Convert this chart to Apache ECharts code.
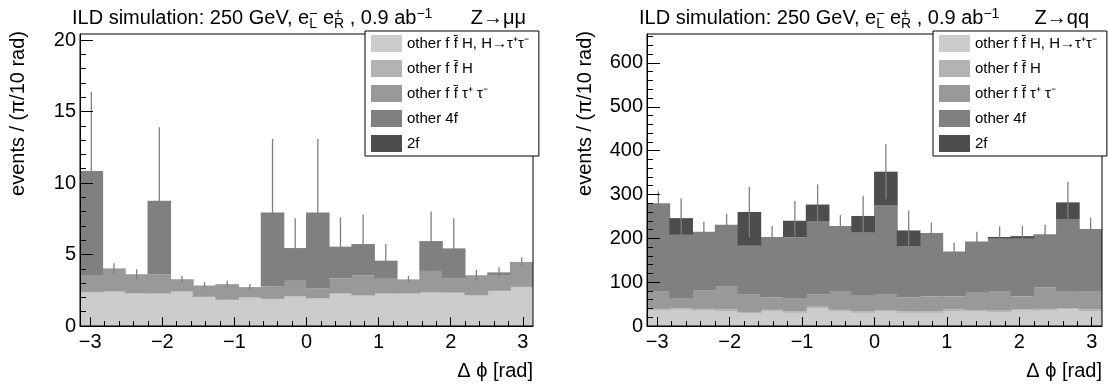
<!DOCTYPE html>
<html><head><meta charset="utf-8">
<script src="https://cdn.jsdelivr.net/npm/echarts@6/dist/echarts.min.js"></script>
<style>html,body{margin:0;padding:0;background:#fff}#c{width:1108px;height:385px}</style>
</head><body><div id="c"></div>
<script>
// ---- data ----
const binCenters = ['-2.98','-2.67','-2.36','-2.04','-1.73','-1.41','-1.10','-0.79','-0.47','-0.16',
                    '0.16','0.47','0.79','1.10','1.41','1.73','2.04','2.36','2.67','2.98'];
const xTickLabels = [-3, -2, -1, 0, 1, 2, 3];
const yTicksMuMu = [0, 5, 10, 15, 20];
const yTicksQQ = [0, 100, 200, 300, 400, 500, 600];
const seriesNames = ['other f f\u0304 H, H\u2192\u03c4\u207a\u03c4\u207b', 'other f f\u0304 H', 'other f f\u0304 \u03c4\u207a \u03c4\u207b', 'other 4f', '2f'];
const seriesColors = ['#cccccc', '#b3b3b3', '#999999', '#808080', '#4d4d4d'];

// Z -> mu mu
const mumu_Htautau = [2.33, 2.38, 2.25, 2.22, 2.38, 1.99, 1.79, 1.95, 1.84, 2.04, 1.90, 2.24, 2.08, 2.22, 2.23, 2.32, 2.28, 2.11, 2.41, 2.68];
const mumu_ffH     = [0.05, 0.04, 0.05, 0.06, 0.04, 0.05, 0.04, 0.05, 0.06, 0.05, 0.04, 0.05, 0.06, 0.05, 0.04, 0.05, 0.05, 0.04, 0.05, 0.06];
const mumu_fftt    = [1.19, 1.61, 1.32, 1.34, 0.85, 0.79, 1.10, 0.72, 0.88, 1.07, 0.71, 1.04, 1.41, 1.03, 0.99, 1.48, 1.02, 1.40, 1.11, 1.74];
const mumu_4f      = [7.27, 0, 0, 5.14, 0, 0, 0, 0, 5.15, 2.29, 5.28, 2.22, 2.18, 1.27, 0, 2.09, 2.08, 0, 0.18, 0];
const mumu_2f      = [0, 0, 0, 0, 0, 0, 0, 0, 0, 0, 0, 0, 0, 0, 0, 0, 0, 0, 0, 0];
const mumu_err     = [5.55, 0.35, 0.35, 5.14, 0.23, 0.23, 0.23, 0.21, 5.15, 2.08, 5.15, 2.05, 2.07, 1.16, 0.24, 2.06, 2.10, 0.38, 0.35, 0.32];

// Z -> q q
const qq_Htautau = [35, 37, 35, 34, 29, 33, 30, 40, 34, 30, 33, 30, 30, 34, 33, 31, 35, 35, 38, 34];
const qq_ffH     = [4, 3, 4, 4, 3, 4, 3, 4, 3, 4, 3, 4, 3, 4, 3, 4, 3, 4, 3, 4];
const qq_fftt    = [39, 22, 43, 53, 39, 28, 29, 28, 43, 35, 37, 31, 34, 29, 40, 43, 29, 49, 39, 40];
const qq_4f      = [202, 146, 133, 140, 112, 138, 140, 166, 148, 144, 203, 116, 145, 103, 117, 121, 132, 121, 164, 143];
const qq_2f      = [0, 38, 0, 0, 77, 0, 38, 39, 0, 38, 76, 37, 0, 0, 0, 4, 6, 0, 38, 0];
const qq_err     = [27, 45, 22, 25, 57, 25, 45, 46, 25, 46, 63, 45, 24, 20, 22, 24, 23, 22, 47, 26];

// ---- layout ----
const FONT = '"Liberation Sans", Arial, Helvetica, sans-serif';
const panels = [
  { left: 80, top: 34, width: 453, height: 292, ymax: 20.42, yTicks: yTicksMuMu, yMinorStep: 1,
    layers: [mumu_Htautau, mumu_ffH, mumu_fftt, mumu_4f, mumu_2f], err: mumu_err,
    legendLeft: 365, titleX: 72, tag: 'Z\u2192\u03bc\u03bc', tagRight: 526, yTitleX: 18 },
  { left: 647, top: 34, width: 455, height: 292, ymax: 666, yTicks: yTicksQQ, yMinorStep: 20,
    layers: [qq_Htautau, qq_ffH, qq_fftt, qq_4f, qq_2f], err: qq_err,
    legendLeft: 933, titleX: 639, tag: 'Z\u2192qq', tagRight: 1089, yTitleX: 585 }
];

const ctx = document.createElement('canvas').getContext('2d');
function tw(t, s) { ctx.font = s + 'px ' + FONT; return ctx.measureText(t).width; }
function txt(x, y, t, s, align) {
  return { type: 'text', x: x, y: y, z: 50,
    style: { text: t, fontSize: s, fontFamily: FONT, fill: '#000', align: align || 'left', verticalAlign: 'middle' } };
}
function titleParts(x0, base, parts, size) {
  const els = []; let x = x0; const ss = Math.round(size * 0.68);
  parts.forEach(p => {
    if (typeof p === 'string') { els.push(txt(x, base - 0.347 * size, p, size)); x += tw(p, size); }
    else {
      let w = 0;
      if (p.sup) { els.push(txt(x, base - 0.55 * size, p.sup, ss)); w = Math.max(w, tw(p.sup, ss)); }
      if (p.sub) { els.push(txt(x, base - 0.02 * size, p.sub, ss)); w = Math.max(w, tw(p.sub, ss)); }
      x += w;
    }
  });
  return els;
}

const fmtX = v => (v < 0 ? '\u2212' + Math.abs(v) : String(v));
const minorX = []; for (let k = -15; k <= 15; k++) minorX.push(k / 5);

const option = {
  animation: false,
  backgroundColor: '#fff',
  textStyle: { fontFamily: FONT },
  grid: [], xAxis: [], yAxis: [], series: [], legend: [], graphic: []
};

panels.forEach((p, gi) => {
  option.grid.push({ left: p.left, top: p.top, width: p.width, height: p.height, show: true,
    borderColor: '#000', borderWidth: 1, backgroundColor: 'transparent', z: 10 });
  const xb = option.xAxis.length;
  option.xAxis.push({ type: 'category', gridIndex: gi, data: binCenters, show: false, boundaryGap: true });
  option.xAxis.push({ type: 'value', gridIndex: gi, min: -Math.PI, max: Math.PI, position: 'bottom', z: 10,
    axisLine: { show: true, onZero: false, lineStyle: { color: '#000', width: 1 } },
    axisTick: { show: true, inside: true, length: 9, customValues: xTickLabels, lineStyle: { color: '#000', width: 1 } },
    axisLabel: { show: true, customValues: xTickLabels, formatter: fmtX, fontSize: 20, color: '#000', margin: 6, fontFamily: FONT },
    splitLine: { show: false } });
  option.xAxis.push({ type: 'value', gridIndex: gi, min: -Math.PI, max: Math.PI, position: 'bottom', z: 10,
    axisLine: { show: false, onZero: false },
    axisTick: { show: true, inside: true, length: 5, customValues: minorX, lineStyle: { color: '#000', width: 1 } },
    axisLabel: { show: false }, splitLine: { show: false } });
  const yb = option.yAxis.length;
  const minorY = []; for (let v = 0; v <= p.ymax; v += p.yMinorStep) minorY.push(v);
  option.yAxis.push({ type: 'value', gridIndex: gi, min: 0, max: p.ymax, position: 'left', z: 10,
    axisLine: { show: true, onZero: false, lineStyle: { color: '#000', width: 1 } },
    axisTick: { show: true, inside: true, length: 13, customValues: p.yTicks, lineStyle: { color: '#000', width: 1 } },
    axisLabel: { show: true, customValues: p.yTicks, fontSize: 20, color: '#000', margin: 4, fontFamily: FONT },
    splitLine: { show: false } });
  option.yAxis.push({ type: 'value', gridIndex: gi, min: 0, max: p.ymax, position: 'left', z: 10,
    axisLine: { show: false, onZero: false },
    axisTick: { show: true, inside: true, length: 6, customValues: minorY, lineStyle: { color: '#000', width: 1 } },
    axisLabel: { show: false }, splitLine: { show: false } });

  p.layers.forEach((arr, li) => {
    option.series.push({ type: 'bar', name: seriesNames[li], xAxisIndex: xb, yAxisIndex: yb, stack: 'g' + gi,
      data: arr, barWidth: '104%', barGap: '0%',
      itemStyle: { color: seriesColors[li], borderWidth: 0 },
      emphasis: { disabled: true }, silent: true, z: 2 });
  });
  const errData = binCenters.map((c, i) => [i, p.layers.reduce((s, a) => s + a[i], 0), p.err[i]]);
  option.series.push({ type: 'custom', name: 'err' + gi, xAxisIndex: xb, yAxisIndex: yb, data: errData, z: 3, silent: true,
    encode: { x: 0, y: 1 },
    renderItem: (params, api) => {
      const i = api.value(0), t = api.value(1), e = api.value(2);
      const a = api.coord([i, t + e]), b = api.coord([i, t - e]);
      return { type: 'line', shape: { x1: a[0], y1: a[1], x2: b[0], y2: b[1] },
        style: { stroke: '#7f7f7f', lineWidth: 1.3 } };
    } });

  option.legend.push({ show: true, orient: 'vertical', left: p.legendLeft, top: 31, z: 20,
    data: seriesNames.map(n => ({ name: n, icon: 'rect' })),
    itemWidth: 31, itemHeight: 17, itemGap: 8, padding: [4, 10, 4, 6], selectedMode: false,
    backgroundColor: '#fff', borderColor: '#000', borderWidth: 1, borderRadius: 0,
    itemStyle: { borderWidth: 0 },
    textStyle: { fontSize: 15, color: '#000', fontFamily: FONT } });

  // titles
  option.graphic.push(...titleParts(p.titleX, 25, ['ILD simulation: 250 GeV, e', { sub: 'L', sup: '\u2212' }, ' e', { sub: 'R', sup: '+' }, ' , 0.9 ab', { sup: '\u22121' }], 20));
  option.graphic.push(txt(p.tagRight, 18, p.tag, 20, 'right'));
  // axis titles
  option.graphic.push({ type: 'text', x: p.yTitleX, y: 31, rotation: Math.PI / 2, z: 50,
    style: { text: 'events / (\u03c0/10 rad)', fontSize: 20, fontFamily: FONT, fill: '#000', align: 'right', verticalAlign: 'middle' } });
  option.graphic.push(txt(p.left + p.width, 371, '\u0394 \u03d5 [rad]', 20, 'right'));
});

const chart = echarts.init(document.getElementById('c'), null, { renderer: 'canvas' });
chart.setOption(option);
</script></body></html>
